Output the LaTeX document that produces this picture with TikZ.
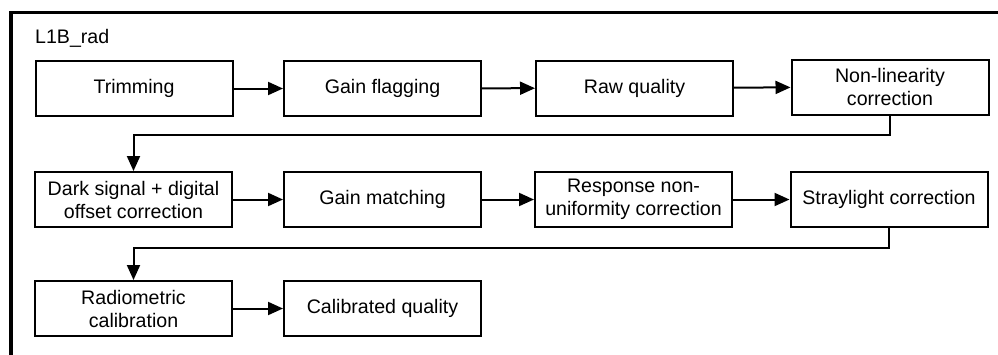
\documentclass[tikz,border=0pt]{standalone}
\usepackage{fontspec}
\setmainfont{Liberation Sans}
\usetikzlibrary{arrows.meta}
\begin{document}
\begin{tikzpicture}[x=1pt,y=-1pt,
  stepbox/.style={draw=black, line width=2pt, minimum width=197pt, minimum height=55pt,
    inner sep=0pt, align=center, font=\fontsize{19.6}{23}\selectfont},
  flow/.style={line width=2pt, -{Triangle[length=15pt,width=13pt]}},
  lbl/.style={font=\fontsize{19.6}{23}\selectfont, inner sep=0pt}]
\useasboundingbox (0,0) rectangle (998,354);
\clip (0,0) rectangle (998,354);
\draw[line width=3.2pt] (11,12.5) rectangle (1020,380);
\node[lbl, anchor=base west] (title) at (35,43) {L1B\_rad};
% row 1
\node[stepbox] (trim) at (134,88.5) {Trimming};
\node[stepbox] (gflag) at (382.5,88.5) {Gain flagging};
\node[stepbox] (raw) at (634.5,88) {Raw quality};
\node[stepbox] (nonlin) at (890,87) {Non-linearity\\correction};
% row 2
\node[stepbox] (dark) at (133.5,199.5) {Dark signal + digital\\offset correction};
\node[stepbox] (gmatch) at (382.5,199.5) {Gain matching};
\node[stepbox] (resp) at (633.5,199.5) {Response non-\\uniformity correction};
\node[stepbox] (stray) at (889,199.5) {Straylight correction};
% row 3
\node[stepbox] (radio) at (133.5,308.5) {Radiometric\\calibration};
\node[stepbox] (calq) at (382.5,308.5) {Calibrated quality};
% connectors
\draw[flow] (trim) -- (gflag);
\draw[flow] (gflag) -- (raw);
\draw[flow] (raw) -- (nonlin);
\draw[flow] (nonlin.south) -- ++(0,19) -| (dark.north);
\draw[flow] (dark) -- (gmatch);
\draw[flow] (gmatch) -- (resp);
\draw[flow] (resp) -- (stray);
\draw[flow] (stray.south) -- ++(0,19.5) -| (radio.north);
\draw[flow] (radio) -- (calq);
\end{tikzpicture}
\end{document}
